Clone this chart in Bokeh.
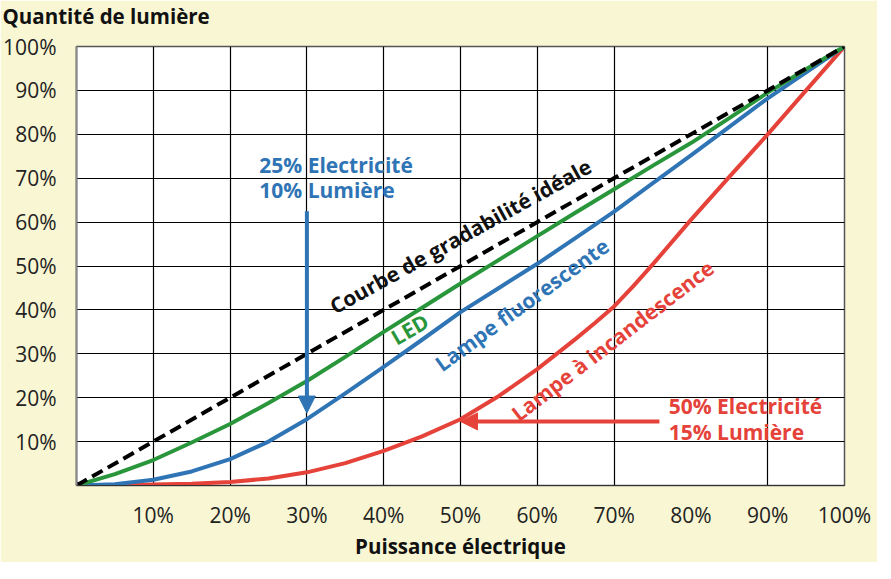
from bokeh.plotting import figure
from bokeh.models import (Range1d, FixedTicker, PrintfTickFormatter, ColumnDataSource,
                          Arrow, NormalHead, Title)
from bokeh.core.properties import value
from bokeh.embed import file_html
from bokeh.resources import INLINE
import math

# ---------------- data ----------------
power = [0, 5, 10, 15, 20, 25, 30, 35, 40, 45, 50, 55, 60, 65, 70, 75, 80, 85, 90, 95, 100]
led = [0, 2.6, 5.8, 9.8, 14, 18.8, 23.8, 29.3, 35, 40.5, 46, 51.4, 56.8, 62.2, 67.5, 72.8, 78, 83.7, 89.5, 94.8, 100]
fluo = [0, 0.3, 1.3, 3.2, 6, 10.0, 15.1, 21, 27, 33.2, 39.5, 45, 50.5, 56.4, 62.4, 68.8, 75.2, 81.7, 88.2, 94.1, 100]
incand_x = [0, 5, 10, 15, 20, 25, 30, 35, 40, 45, 50, 55, 60, 65, 67.5, 70, 72.5, 75, 80, 85, 90, 95, 100]
incand = [0, 0.05, 0.2, 0.4, 0.8, 1.6, 3, 5.1, 7.9, 11.2, 15.1, 20.4, 26.5, 33.4, 37.0, 40.8, 45.4, 50.3, 60.5, 70.3, 80, 90, 100]
ideal_x = [0, 100]
ideal_y = [0, 100]

x_ticks = [10, 20, 30, 40, 50, 60, 70, 80, 90, 100]
y_ticks = [10, 20, 30, 40, 50, 60, 70, 80, 90, 100]
x_grid = [10, 20, 30, 40, 50, 60, 70, 90]
y_grid = [10, 20, 30, 40, 50, 60, 70, 80, 90]

# annotation points (electricity %, light %)
blue_arrow = dict(x=30, y_start=62.5, y_end=16.5)
red_arrow = dict(y=14.6, x_start=75.9, x_end=50.0)

curve_labels = ["Courbe de gradabilité idéale", "LED", "Lampe fluorescente", "Lampe à incandescence"]
curve_label_x = [50.0, 43.4, 58.0, 69.8]
curve_label_y = [56.8, 35.6, 41.2, 33.0]
curve_label_angle = [29.0, 30.0, 36.0, 37.5]

blue_note = ["25% Electricité", "10% Lumière"]
blue_note_x = [23.8, 23.8]
blue_note_y = [73.1, 67.2]
red_note = ["50% Electricité", "15% Lumière"]
red_note_x = [77.1, 77.1]
red_note_y = [18.2, 12.3]

y_title = "Quantité de lumière"
x_title = "Puissance électrique"

# ---------------- styles ----------------
CREAM = "#F9F6D3"
BLUE = "#2F74B5"
GREEN = "#2A963C"
RED = "#E5423A"
FONT = "Open Sans"

p = figure(frame_width=768, frame_height=439, output_backend="svg", toolbar_location=None,
           x_range=Range1d(0, 100), y_range=Range1d(0, 100), title=None,
           min_border_left=74, min_border_right=33, min_border_top=46, min_border_bottom=70)
p.background_fill_color = "white"
p.border_fill_color = CREAM
p.outline_line_color = "#555555"
p.outline_line_width = 1.5

# spacer (closest to frame) then the y-axis title at the top-left
p.add_layout(Title(text=" ", text_font_size="1px", standoff=12), "above")
p.add_layout(Title(text=y_title, text_font=FONT, text_font_size="20.5px",
                   text_font_style="bold", text_color="#111111", align="left",
                   vertical_align="top", offset=-74, standoff=0), "above")

# axes
for ax in (p.xaxis[0], p.yaxis[0]):
    ax.major_label_text_font = FONT
    ax.major_label_text_font_size = "21px"
    ax.major_label_text_color = "#222222"
    ax.major_tick_line_color = None
    ax.minor_tick_line_color = None
    ax.formatter = PrintfTickFormatter(format="%d%%")
p.xaxis.ticker = FixedTicker(ticks=x_ticks)
p.yaxis.ticker = FixedTicker(ticks=y_ticks)
p.xaxis.major_label_standoff = 9
p.yaxis.major_label_standoff = 14
p.xaxis.axis_line_color = "#333333"
p.yaxis.axis_line_color = "#8a8a8a"
p.yaxis.axis_line_width = 2
p.xaxis.axis_label = x_title
p.xaxis.axis_label_text_font = FONT
p.xaxis.axis_label_text_font_size = "20.5px"
p.xaxis.axis_label_text_font_style = "bold"
p.xaxis.axis_label_text_color = "#111111"
p.xaxis.axis_label_standoff = 0

p.xgrid.ticker = FixedTicker(ticks=x_grid)
p.ygrid.ticker = FixedTicker(ticks=y_grid)
p.grid.grid_line_color = "black"
p.grid.grid_line_width = 1.2
p.grid.grid_line_alpha = 1.0

# curves
p.line(incand_x, incand, line_color=RED, line_width=4, line_join="round")
p.line(power, fluo, line_color=BLUE, line_width=4, line_join="round")
p.line(power, led, line_color=GREEN, line_width=4, line_join="round")
p.line(ideal_x, ideal_y, line_color="black", line_width=4, line_dash="12 6")
p.scatter(ideal_x[:1], ideal_y[:1], size=7, color="black")

# curve labels
src = ColumnDataSource(dict(x=curve_label_x, y=curve_label_y, text=curve_labels,
                            angle=[math.radians(a) for a in curve_label_angle],
                            color=["#111111", GREEN, BLUE, RED]))
p.text(x="x", y="y", text="text", angle="angle", text_color="color", source=src,
       text_font=value(FONT), text_font_size="21px", text_font_style="bold",
       text_align="center", text_baseline="middle")

p.text(blue_note_x, blue_note_y, text=blue_note, text_color=BLUE,
       text_font=value(FONT), text_font_size="21px", text_font_style="bold",
       text_align="left", text_baseline="middle")
p.text(red_note_x, red_note_y, text=red_note, text_color=RED,
       text_font=value(FONT), text_font_size="21px", text_font_style="bold",
       text_align="left", text_baseline="middle")

# arrows
p.add_layout(Arrow(end=NormalHead(size=17, fill_color=BLUE, line_color=BLUE),
                   x_start=blue_arrow["x"], y_start=blue_arrow["y_start"],
                   x_end=blue_arrow["x"], y_end=blue_arrow["y_end"],
                   line_color=BLUE, line_width=4))
p.add_layout(Arrow(end=NormalHead(size=17, fill_color=RED, line_color=RED),
                   x_start=red_arrow["x_start"], y_start=red_arrow["y"],
                   x_end=red_arrow["x_end"], y_end=red_arrow["y"],
                   line_color=RED, line_width=4))

open("out.html", "w").write(file_html(p, INLINE))
